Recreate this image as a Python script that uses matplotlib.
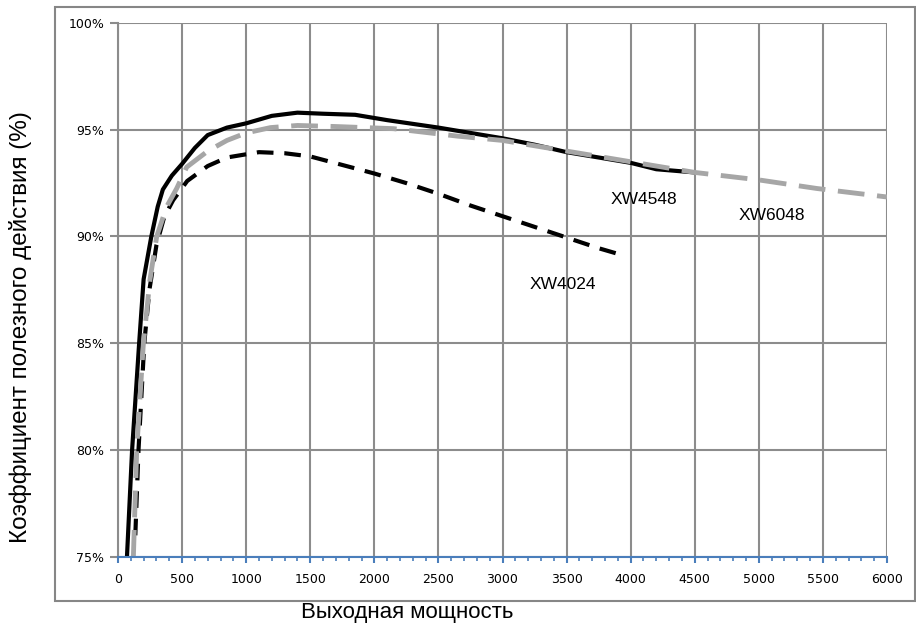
import matplotlib
matplotlib.use("Agg")
import matplotlib.pyplot as plt
from matplotlib.patches import Rectangle
from matplotlib.ticker import MultipleLocator, FuncFormatter

# XW4548 - solid black
xw4548_x = [70, 110, 165, 200, 260, 310, 350, 420, 500, 600, 700, 850, 1000, 1200, 1400, 1600,
            1850, 2100, 2500, 2750, 3000, 3250, 3500, 3800, 4000, 4200, 4500]
xw4548_y = [75.0, 80.0, 85.0, 88.0, 90.0, 91.4, 92.2, 92.85, 93.4, 94.15, 94.75, 95.1, 95.3, 95.65,
            95.8, 95.75, 95.7, 95.45, 95.1, 94.85, 94.6, 94.3, 93.95, 93.65, 93.45, 93.15, 93.0]

# XW6048 - gray long dashes
xw6048_x = [120, 146, 198, 250, 302, 380, 458, 536, 700, 850, 1000, 1190, 1400, 1700, 2150, 2650,
            3000, 3500, 4000, 4500, 5000, 5450, 6000]
xw6048_y = [75.0, 80.0, 85.0, 88.0, 90.0, 91.4, 92.25, 93.25, 94.0, 94.5, 94.85, 95.1, 95.2, 95.15,
            95.05, 94.7, 94.5, 94.0, 93.5, 93.0, 92.65, 92.25, 91.85]

# XW4024 - black dashes
xw4024_x = [135, 160, 205, 245, 300, 360, 430, 540, 700, 850, 1100, 1300, 1500, 1750,
            2000, 2250, 2500, 2750, 3000, 3250, 3500, 3750, 3950]
xw4024_y = [76.0, 80.0, 85.0, 87.5, 89.6, 90.9, 91.7, 92.6, 93.3, 93.7, 93.95, 93.9, 93.75, 93.35,
            92.95, 92.5, 92.0, 91.45, 90.95, 90.45, 89.95, 89.45, 89.1]

labels = ["XW4548", "XW4024", "XW6048"]
label_x = [4100, 3470, 5100]
label_y = [91.75, 87.75, 91.0]

fig = plt.figure(figsize=(9.16, 6.24), dpi=100)
ax = fig.add_axes([118 / 916, 1 - 556.7 / 624, (887 - 118) / 916, (556.7 - 23) / 624])

gray = "#8c8c8c"
blue = "#4a7ebb"

ax.plot(xw4024_x, xw4024_y, color="black", lw=3, dashes=(4, 2.6), zorder=3)
ax.plot(xw6048_x, xw6048_y, color="#a6a6a6", lw=3.5, dashes=(5.5, 2.6), zorder=4)
ax.plot(xw4548_x, xw4548_y, color="black", lw=3, zorder=3, solid_capstyle="butt")

for t, x, y in zip(labels, label_x, label_y):
    ax.text(x, y, t, ha="center", va="center", fontsize=12.5, family="Liberation Sans")

ax.set_xlim(0, 6000)
ax.set_ylim(75, 100)
ax.xaxis.set_major_locator(MultipleLocator(500))
ax.xaxis.set_minor_locator(MultipleLocator(100))
ax.yaxis.set_major_locator(MultipleLocator(5))
ax.yaxis.set_major_formatter(FuncFormatter(lambda v, p: "%d%%" % v))

ax.grid(True, which="major", color=gray, lw=1.5, zorder=0)
ax.set_axisbelow(True)
for s in ["top", "right"]:
    ax.spines[s].set_visible(False)
ax.spines["left"].set_color(gray)
ax.spines["left"].set_linewidth(1.5)
ax.spines["bottom"].set_color(blue)
ax.spines["bottom"].set_linewidth(1.5)
ax.spines["bottom"].set_zorder(5)

ax.tick_params(axis="y", which="major", length=6, width=1.5, color=gray,
               labelsize=9, pad=4)
ax.tick_params(axis="x", which="major", length=4, width=1.5, color=blue,
               labelsize=9, pad=8)
ax.tick_params(axis="x", which="minor", length=3, width=1.2, color=blue)

ax.set_xlabel("Выходная мощность", fontsize=16, family="Liberation Sans")
ax.xaxis.set_label_coords(407 / 916, 1 - 602 / 624, transform=fig.transFigure)
ax.set_ylabel("Коэффициент полезного действия (%)", fontsize=17.5, family="Liberation Sans")
ax.yaxis.set_label_coords(32 / 916, 1 - 327 / 624, transform=fig.transFigure)

frame = Rectangle((55 / 916, 1 - 601 / 624), (915 - 55) / 916, (601 - 7) / 624,
                  transform=fig.transFigure, fill=False, edgecolor="#868686", lw=1.5)
fig.patches.append(frame)

fig.savefig("out.png", dpi=100)
